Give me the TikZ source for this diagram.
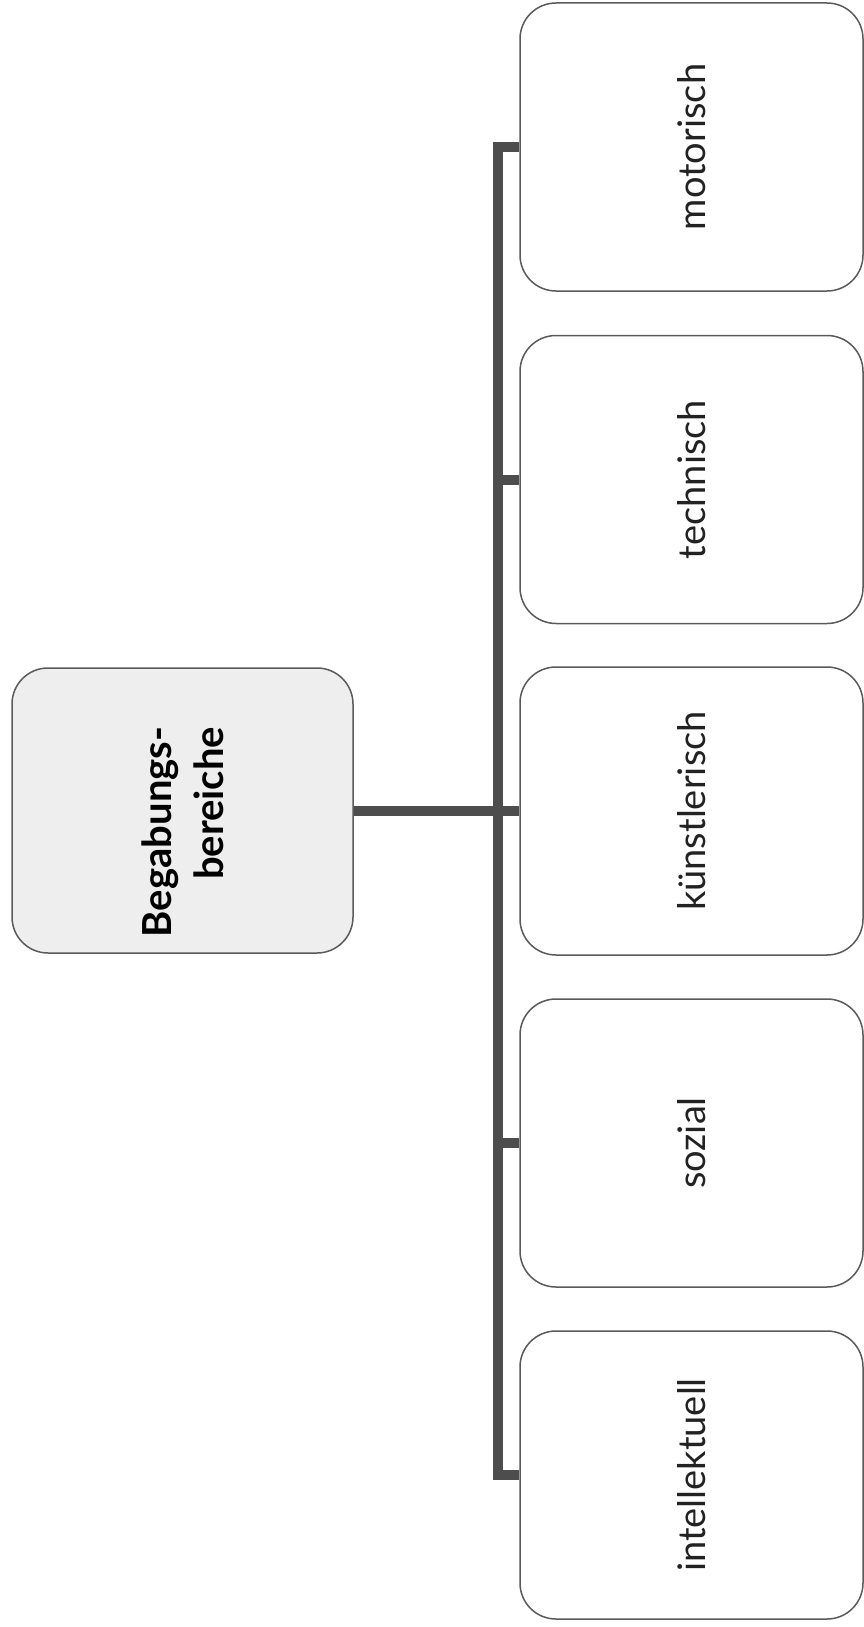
\documentclass[tikz,border=0pt]{standalone}
\usepackage{fontspec}
\setmainfont{Lato}
\usetikzlibrary{calc}
\definecolor{busgray}{HTML}{4D4D4D}
\definecolor{edgegray}{HTML}{5A5A5A}
\definecolor{rootfill}{HTML}{EEEEEE}
\definecolor{txt}{HTML}{222222}
\tikzset{
  leafbox/.style={draw=edgegray, line width=1.5pt, rounded corners=36pt, fill=white,
    minimum width=343pt, minimum height=288pt, inner sep=0pt, text=txt,
    font=\fontsize{38}{46}\selectfont},
  rootbox/.style={draw=edgegray, line width=1.5pt, rounded corners=36pt, fill=rootfill,
    minimum width=341pt, minimum height=285pt, inner sep=0pt},
  roottxt/.style={inner sep=0pt, text=black, rotate=90, align=right,
    font=\bfseries\fontsize{40}{52}\selectfont},
  bus/.style={draw=busgray, line width=10pt, line join=miter, line cap=butt}
}
\begin{document}
\begin{tikzpicture}[x=1pt,y=-1pt]
\useasboundingbox (0,0) rectangle (864,1627);
\node[rootbox] (root) at (182.5,810.5) {};
\node[roottxt] (roottext) at (182.5,832) {Begabungs-\\bereiche};
\node[leafbox] (mot) at (691.5,147) {\rotatebox{90}{motorisch}};
\node[leafbox] (tech) at (691.5,479.5) {\rotatebox{90}{technisch}};
\node[leafbox] (kuen) at (691.5,811) {\rotatebox{90}{künstlerisch}};
\node[leafbox] (soz) at (691.5,1143) {\rotatebox{90}{sozial}};
\node[leafbox] (int) at (691.5,1475) {\rotatebox{90}{intellektuell}};
\coordinate (busx) at (497.5,0);
\draw[bus] (mot.west) -- (mot.west -| busx) -- (int.west -| busx) -- (int.west);
\draw[bus] (tech.west) -- (tech.west -| busx);
\draw[bus] (kuen.west) -- (kuen.west -| busx);
\draw[bus] (soz.west) -- (soz.west -| busx);
\draw[bus] (root.east) -- (root.east -| busx);
\end{tikzpicture}
\end{document}
